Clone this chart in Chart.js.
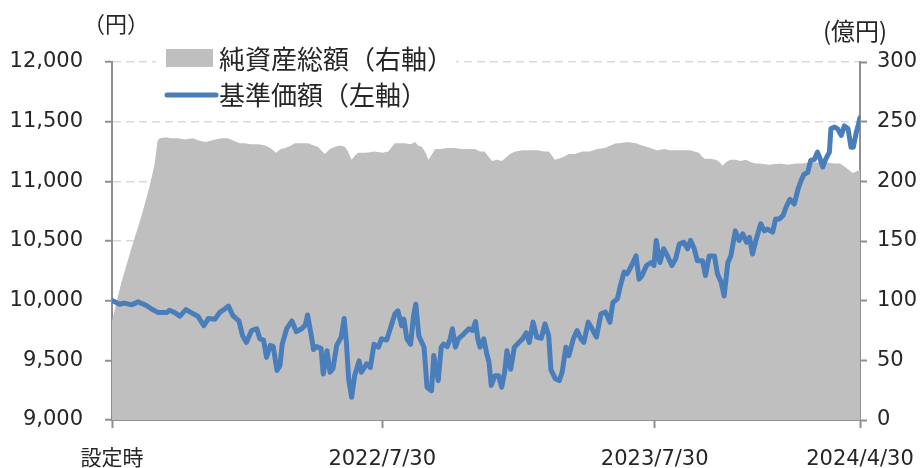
<!DOCTYPE html>
<html lang="ja">
<head>
<meta charset="utf-8">
<title>基準価額・純資産総額の推移</title>
<script src="https://cdn.jsdelivr.net/npm/chart.js@4.4.1/dist/chart.umd.min.js"></script>
<style>
  html, body { margin: 0; padding: 0; background: #fff; }
</style>
</head>
<body>
<canvas id="chart-nav" width="922" height="468"></canvas>
<script>
'use strict';

// ===========================================================================
// DATA (x = days since 設定日 2021/8/2)
// ===========================================================================

const tickDays = [0, 362, 727, 1002];
const tickLabels = ['設定時', '2022/7/30', '2023/7/30', '2024/4/30'];

// 基準価額（円）
const navDays = [
  0, 4, 10, 17, 26, 35, 46, 53, 62, 73, 77, 84, 91, 99, 106, 115, 123, 129, 138, 144,
  151, 156, 162, 170, 175, 180, 187, 194, 198, 203, 207, 212, 216, 221, 225, 228, 234, 241, 247, 254,
  259, 262, 267, 270, 274, 280, 283, 288, 292, 296, 301, 307, 311, 314, 317, 321, 325, 331, 334, 341,
  346, 351, 357, 361, 368, 372, 379, 383, 388, 391, 395, 400, 404, 407, 411, 418, 422, 428, 431, 437,
  441, 444, 449, 453, 456, 460, 464, 471, 478, 483, 487, 490, 493, 498, 502, 505, 508, 513, 518, 522,
  526, 529, 534, 539, 545, 550, 555, 559, 564, 569, 575, 580, 585, 588, 594, 599, 603, 608, 612, 618,
  623, 628, 632, 638, 643, 649, 655, 661, 667, 671, 677, 681, 686, 690, 696, 702, 706, 710, 716, 722,
  726, 729, 734, 739, 744, 750, 755, 760, 766, 771, 775, 780, 784, 791, 795, 800, 807, 811, 816, 820,
  825, 829, 835, 840, 845, 850, 854, 858, 863, 869, 874, 878, 885, 889, 894, 899, 903, 908, 914, 919,
  923, 927, 932, 936, 941, 945, 948, 952, 956, 961, 963, 968, 972, 977, 981, 986, 990, 993, 997, 1000,
  1002
];
const navValues = [
  10000, 9990, 9970, 9980, 9965, 9990, 9960, 9930, 9900, 9900, 9920, 9900, 9870, 9925, 9900, 9870, 9790, 9850, 9845, 9900,
  9930, 9955, 9875, 9830, 9705, 9650, 9750, 9765, 9680, 9670, 9525, 9625, 9615, 9415, 9455, 9635, 9765, 9830, 9740, 9765,
  9795, 9880, 9705, 9590, 9615, 9600, 9385, 9580, 9400, 9430, 9625, 9695, 9850, 9650, 9345, 9190, 9370, 9495, 9400, 9470,
  9440, 9635, 9610, 9680, 9670, 9750, 9890, 9915, 9790, 9845, 9680, 9635, 9875, 9970, 9705, 9610, 9275, 9245, 9540, 9330,
  9610, 9635, 9615, 9680, 9765, 9610, 9680, 9720, 9765, 9750, 9825, 9680, 9610, 9680, 9555, 9485, 9290, 9370, 9370, 9275,
  9400, 9580, 9425, 9610, 9650, 9680, 9730, 9650, 9820, 9695, 9685, 9805, 9705, 9420, 9345, 9330, 9400, 9610, 9540, 9680,
  9750, 9680, 9650, 9820, 9765, 9695, 9890, 9905, 9820, 9985, 10015, 10125, 10240, 10225, 10295, 10375, 10180, 10210, 10295, 10320,
  10295, 10505, 10320, 10435, 10375, 10295, 10350, 10475, 10490, 10435, 10505, 10435, 10335, 10335, 10210, 10375, 10375, 10225, 10155, 10040,
  10320, 10375, 10585, 10505, 10560, 10490, 10530, 10390, 10515, 10645, 10585, 10600, 10575, 10685, 10685, 10715, 10785, 10850, 10810, 10935,
  11005, 11060, 11075, 11175, 11185, 11245, 11200, 11120, 11185, 11245, 11440, 11455, 11440, 11385, 11465, 11440, 11285, 11285, 11410, 11480,
  11535
];

// 純資産総額（億円）
const aumDays = [
  0, 12, 26, 39, 50, 57, 61, 64, 72, 78, 88, 98, 108, 118, 125, 132, 138, 147, 155, 163,
  171, 178, 185, 196, 205, 212, 220, 226, 232, 240, 245, 255, 263, 270, 276, 280, 285, 292, 299, 305,
  312, 316, 321, 326, 330, 340, 352, 362, 370, 375, 379, 386, 392, 400, 406, 410, 415, 420, 424, 428,
  433, 440, 450, 459, 468, 477, 486, 493, 499, 504, 509, 516, 522, 528, 533, 540, 550, 560, 570, 578,
  585, 590, 593, 598, 603, 612, 620, 630, 640, 650, 660, 668, 675, 680, 690, 702, 710, 721, 730, 740,
  747, 760, 774, 780, 786, 790, 794, 801, 809, 814, 818, 822, 828, 835, 842, 849, 856, 862, 868, 880,
  895, 905, 916, 925, 935, 945, 955, 968, 975, 982, 988, 992, 996, 1002
];
const aumValues = [
  83, 114, 144, 170, 195, 214, 234, 236, 237, 236, 236, 235, 236, 234, 233, 234, 235, 236, 236, 234,
  232, 232, 231, 231, 230, 228, 224, 227, 228, 230, 232, 232, 232, 230, 229, 226, 223, 227, 229, 230,
  229, 225, 218, 222, 224, 224, 225, 224, 225, 229, 232, 232, 232, 231, 233, 230, 229, 224, 218, 222,
  227, 227, 228, 228, 227, 227, 227, 225, 225, 221, 217, 218, 217, 220, 223, 225, 226, 226, 226, 225,
  225, 221, 218, 219, 220, 223, 223, 225, 225, 227, 228, 230, 232, 232, 233, 232, 230, 228, 226, 227,
  226, 226, 226, 225, 224, 221, 219, 219, 218, 216, 213, 216, 218, 218, 217, 218, 216, 215, 215, 214,
  215, 214, 215, 215, 216, 216, 216, 215, 215, 212, 209, 207, 208, 210
];

// ===========================================================================
// STYLE
// ===========================================================================

const AXIS_COLOR = '#8f8f8f';
const TEXT_COLOR = '#262626';
const NAV_COLOR = '#4a7ebb';
const AUM_COLOR = '#bfbfbf';
const TICK_FONT = { family: "'DejaVu Sans', 'Noto Sans CJK JP', sans-serif", size: 21 };

// ===========================================================================
// PLUGINS
// ===========================================================================

// Legend in the top-left corner of the plot + unit labels of both axes.
const legendAndUnits = {
  id: 'legendAndUnits',
  afterDraw(chart) {
    const ctx = chart.ctx;
    const sets = chart.data.datasets;
    const aum = sets[1];
    const nav = sets[0];

    ctx.save();
    ctx.fillStyle = '#fff';
    ctx.fillRect(156, 42, 300, 70);

    ctx.font = "26px 'Noto Sans CJK JP', sans-serif";
    ctx.textBaseline = 'middle';
    ctx.textAlign = 'left';

    // 純資産総額
    ctx.fillStyle = aum.backgroundColor;
    ctx.fillRect(166, 49, 47, 18);
    ctx.fillStyle = TEXT_COLOR;
    ctx.fillText(aum.label, 219, 59);

    // 基準価額
    ctx.strokeStyle = nav.borderColor;
    ctx.lineWidth = 5;
    ctx.lineCap = 'round';
    ctx.beginPath();
    ctx.moveTo(167, 95);
    ctx.lineTo(216, 95);
    ctx.stroke();
    ctx.fillStyle = TEXT_COLOR;
    ctx.fillText(nav.label, 219, 95);

    // units
    ctx.font = "22px 'Noto Sans CJK JP', sans-serif";
    ctx.textAlign = 'center';
    ctx.fillText('（円）', 116, 24);
    ctx.font = "24px 'Noto Sans CJK JP', sans-serif";
    ctx.fillText('(億円)', 855, 31);
    ctx.restore();
  },
};

// ===========================================================================
// CHART
// ===========================================================================

function toPoints(days, values) {
  return days.map((d, i) => ({ x: d, y: values[i] }));
}

function formatNumber(val) {
  return new Intl.NumberFormat('en-US').format(val);
}

new Chart(document.getElementById('chart-nav'), {
  type: 'line',
  data: {
    datasets: [
      {
        label: '基準価額（左軸）',
        data: toPoints(navDays, navValues),
        yAxisID: 'y',
        borderColor: NAV_COLOR,
        borderWidth: 5,
        borderJoinStyle: 'round',
        borderCapStyle: 'round',
        pointRadius: 0,
        tension: 0,
        fill: false,
      },
      {
        label: '純資産総額（右軸）',
        data: toPoints(aumDays, aumValues),
        yAxisID: 'y1',
        borderWidth: 0,
        borderColor: AUM_COLOR,
        backgroundColor: AUM_COLOR,
        pointRadius: 0,
        tension: 0,
        fill: 'origin',
      },
    ],
  },
  options: {
    responsive: false,
    animation: false,
    layout: { padding: { top: 62, left: 0, right: 0, bottom: 0 } },
    plugins: {
      legend: { display: false },
      tooltip: { enabled: false },
    },
    scales: {
      x: {
        type: 'linear',
        min: 0,
        max: 1002,
        afterBuildTicks(scale) {
          scale.ticks = tickDays.map(v => ({ value: v }));
        },
        afterFit(scale) {
          // Labels may overhang into the side axes; do not shrink the plot for them.
          scale.height = 48;
          scale.paddingLeft = 0;
          scale.paddingRight = 0;
        },
        ticks: {
          autoSkip: false,
          maxRotation: 0,
          padding: 19,
          font: TICK_FONT,
          color: TEXT_COLOR,
          callback(value) {
            const k = tickDays.indexOf(value);
            return k >= 0 ? tickLabels[k] : '';
          },
        },
        grid: { drawOnChartArea: false, tickLength: 8, tickWidth: 2, tickColor: AXIS_COLOR },
        border: { color: AXIS_COLOR, width: 2 },
      },
      y: {
        position: 'left',
        min: 9000,
        max: 12000,
        afterFit(scale) { scale.width = 112; },
        ticks: {
          stepSize: 500,
          padding: 22,
          font: TICK_FONT,
          color: TEXT_COLOR,
          callback: v => formatNumber(v),
        },
        grid: { color: '#d9d9d9', lineWidth: 1.5, tickLength: 7, tickWidth: 2, tickColor: AXIS_COLOR, tickBorderDash: [] },
        border: { color: AXIS_COLOR, width: 2, dash: [8, 5] },
      },
      y1: {
        position: 'right',
        min: 0,
        max: 300,
        afterFit(scale) { scale.width = 62; },
        ticks: {
          stepSize: 50,
          padding: 10,
          font: TICK_FONT,
          color: TEXT_COLOR,
        },
        grid: { drawOnChartArea: false, tickLength: 7, tickWidth: 2, tickColor: AXIS_COLOR },
        border: { color: AXIS_COLOR, width: 2 },
      },
    },
  },
  plugins: [legendAndUnits],
});
</script>
</body>
</html>
